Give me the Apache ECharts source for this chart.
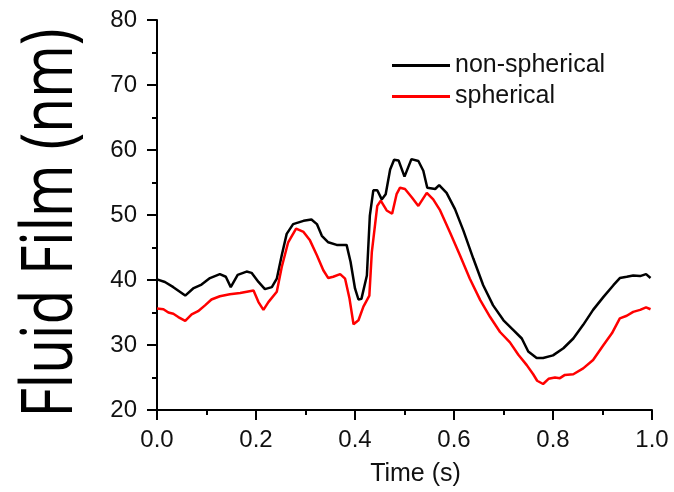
<!DOCTYPE html>
<html>
<head>
<meta charset="utf-8">
<script src="https://cdn.jsdelivr.net/npm/echarts@6/dist/echarts.min.js"></script>
<style>
  html, body { margin: 0; padding: 0; background: #fff; }
  #chart { width: 674px; height: 492px; }
</style>
</head>
<body>
<div id="chart"></div>
<script>
// [time (s), film (nm)]
var nonSpherical = [
  [0, 40.1], [0.016, 39.7], [0.033, 38.9], [0.057, 37.6], [0.073, 38.7], [0.09, 39.3],
  [0.107, 40.3], [0.127, 40.9], [0.139, 40.5], [0.149, 38.9], [0.163, 40.8], [0.181, 41.3],
  [0.191, 41.1], [0.205, 39.7], [0.218, 38.6], [0.232, 38.9], [0.242, 40.2], [0.252, 43.8],
  [0.262, 47.1], [0.275, 48.6], [0.296, 49.1], [0.312, 49.3], [0.323, 48.6], [0.333, 46.8],
  [0.346, 45.8], [0.363, 45.4], [0.383, 45.4], [0.391, 42.8], [0.4, 38.7], [0.407, 37.0],
  [0.413, 37.1], [0.424, 40.7], [0.43, 49.9], [0.437, 53.8], [0.445, 53.8], [0.454, 52.4],
  [0.462, 53.2], [0.471, 57.0], [0.479, 58.5], [0.488, 58.4], [0.5, 55.9], [0.514, 58.6],
  [0.528, 58.3], [0.538, 56.8], [0.546, 54.2], [0.562, 54.0], [0.57, 54.6], [0.585, 53.4],
  [0.602, 50.9], [0.619, 47.6], [0.639, 43.3], [0.659, 39.2], [0.679, 36.1], [0.7, 33.8],
  [0.72, 32.3], [0.737, 31.0], [0.75, 29.0], [0.767, 28.0], [0.78, 28.0], [0.8, 28.4],
  [0.821, 29.5], [0.841, 31.0], [0.861, 33.1], [0.881, 35.4], [0.902, 37.4], [0.922, 39.2],
  [0.935, 40.3], [0.949, 40.5], [0.962, 40.7], [0.976, 40.6], [0.988, 40.9], [0.997, 40.3]
];

var spherical = [
  [0, 35.6], [0.013, 35.5], [0.023, 35.0], [0.033, 34.8], [0.043, 34.3], [0.057, 33.7],
  [0.07, 34.7], [0.083, 35.2], [0.097, 36.1], [0.11, 37.0], [0.127, 37.5], [0.147, 37.8],
  [0.168, 38.0], [0.195, 38.4], [0.205, 36.6], [0.215, 35.4], [0.225, 36.6], [0.242, 38.2],
  [0.252, 42.0], [0.265, 45.8], [0.281, 47.9], [0.296, 47.4], [0.309, 46.1], [0.323, 43.8],
  [0.336, 41.5], [0.346, 40.3], [0.356, 40.5], [0.37, 40.9], [0.38, 40.2], [0.389, 37.1],
  [0.397, 33.2], [0.407, 33.8], [0.417, 35.9], [0.429, 37.6], [0.434, 44.3], [0.445, 51.4],
  [0.452, 52.2], [0.464, 50.7], [0.475, 50.2], [0.484, 53.2], [0.491, 54.2], [0.501, 54.0],
  [0.515, 52.7], [0.528, 51.4], [0.545, 53.4], [0.558, 52.4], [0.572, 50.7], [0.592, 47.3],
  [0.612, 43.8], [0.632, 40.2], [0.653, 36.9], [0.673, 34.3], [0.693, 32.0], [0.713, 30.4],
  [0.73, 28.5], [0.747, 26.9], [0.76, 25.5], [0.768, 24.5], [0.78, 24.0], [0.791, 24.8],
  [0.804, 25.0], [0.814, 24.9], [0.824, 25.4], [0.841, 25.5], [0.861, 26.4], [0.881, 27.7],
  [0.902, 30.0], [0.919, 31.8], [0.935, 34.1], [0.949, 34.5], [0.962, 35.1], [0.976, 35.4],
  [0.988, 35.8], [0.997, 35.5]
];

var seriesNames = ['non-spherical', 'spherical'];
var yLabel = 'Fluid Film (nm)';
var xLabel = 'Time (s)';

var chart = echarts.init(document.getElementById('chart'));
var labelFont = '"Liberation Sans", Arial, sans-serif';

var option = {
  animation: false,
  backgroundColor: '#fff',
  grid: { left: 157, top: 20, width: 495, height: 392 },
  legend: {
    orient: 'vertical',
    left: 387,
    top: 48,
    icon: 'rect',
    itemWidth: 58,
    itemHeight: 3,
    itemGap: 6,
    data: seriesNames,
    textStyle: { fontFamily: labelFont, fontSize: 25, color: '#111' }
  },
  graphic: [{
    type: 'text',
    x: 51,
    y: 223,
    rotation: Math.PI / 2,
    scaleX: 0.79,
    style: {
      text: yLabel,
      fontFamily: '"Open Sans", sans-serif',
      fontSize: 72,
      fill: '#000',
      align: 'center',
      verticalAlign: 'middle',
      textAlign: 'center',
      textVerticalAlign: 'middle'
    }
  }],
  xAxis: {
    type: 'value',
    min: 0,
    max: 1,
    interval: 0.2,
    name: xLabel,
    nameLocation: 'middle',
    nameGap: 52,
    nameTextStyle: { fontFamily: labelFont, fontSize: 25, color: '#111', padding: [0, 0, 0, 22] },
    axisLine: { lineStyle: { color: '#000', width: 2 } },
    axisTick: { length: 10, lineStyle: { color: '#000', width: 2 } },
    minorTick: { show: true, splitNumber: 2, length: 5, lineStyle: { color: '#000', width: 2 } },
    splitLine: { show: false },
    axisLabel: {
      margin: 18,
      fontFamily: labelFont,
      fontSize: 24,
      color: '#111',
      formatter: function (v) { return v.toFixed(1); }
    }
  },
  yAxis: {
    type: 'value',
    min: 20,
    max: 80,
    interval: 10,
    axisLine: { show: true, lineStyle: { color: '#000', width: 2 } },
    axisTick: { show: true, length: 10, lineStyle: { color: '#000', width: 2 } },
    minorTick: { show: true, splitNumber: 2, length: 5, lineStyle: { color: '#000', width: 2 } },
    splitLine: { show: false },
    axisLabel: { margin: 20, fontFamily: labelFont, fontSize: 24, color: '#111' }
  },
  series: [
    {
      name: seriesNames[0],
      type: 'line',
      data: nonSpherical,
      symbol: 'none',
      itemStyle: { color: '#000' },
      lineStyle: { color: '#000', width: 2.5 }
    },
    {
      name: seriesNames[1],
      type: 'line',
      data: spherical,
      symbol: 'none',
      itemStyle: { color: '#ff0000' },
      lineStyle: { color: '#ff0000', width: 2.5 }
    }
  ]
};

chart.setOption(option);
</script>
</body>
</html>
